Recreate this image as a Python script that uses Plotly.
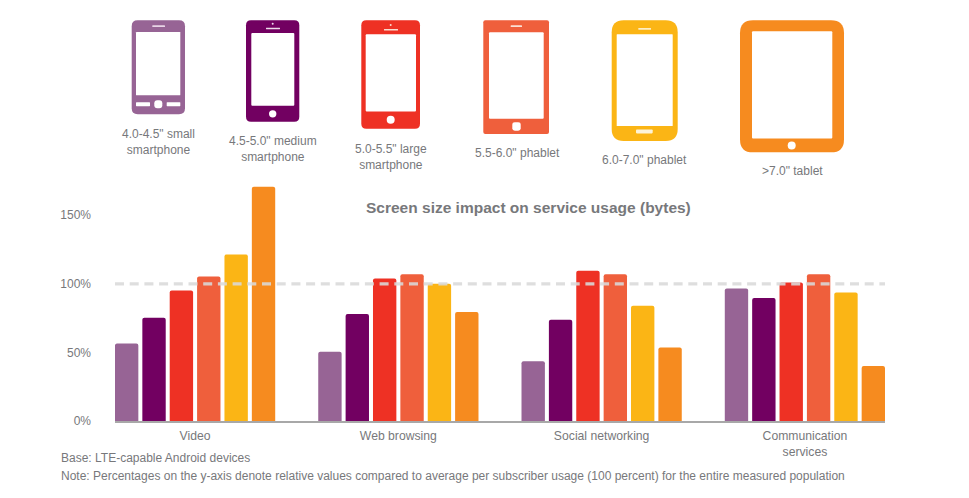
import plotly.graph_objects as go

categories = ["Video", "Web browsing", "Social networking", "Communication<br>services"]
series_names = ['4.0-4.5" small smartphone', '4.5-5.0" medium smartphone', '5.0-5.5" large smartphone',
                '5.5-6.0" phablet', '6.0-7.0" phablet', '>7.0" tablet']
small_phone = [56.4, 50.5, 43.5, 96.6]
medium_phone = [75.3, 78, 73.8, 89.6]
large_phone = [95.1, 103.9, 109.5, 101]
phablet_55 = [105.3, 107, 107, 107]
phablet_60 = [121.3, 100, 84, 93.7]
tablet = [170.8, 79.4, 53.5, 40]
series_values = [small_phone, medium_phone, large_phone, phablet_55, phablet_60, tablet]
colors = ["#976495", "#720061", "#ee3124", "#ef5f3c", "#fbb515", "#f68b1f"]
y_ticks = [0, 50, 100, 150]
y_tick_labels = ["0%", "50%", "100%", "150%"]
reference_level = 100

W, H = 969, 498
L, R, T, B = 115, 885, 185, 421.5
TXT = "#77787b"
FONT = "Liberation Sans, Arial, sans-serif"


def px(x):
    return (x - L) / (R - L)


def py(y):
    return (B - y) / (B - T)


def rrect(x0, y0, x1, y1, r, color):
    xa, xb, ya, yb = px(x0), px(x1), py(y0), py(y1)
    rx, ry = r / (R - L), r / (B - T)
    path = (f"M{xa + rx},{ya} L{xb - rx},{ya} Q{xb},{ya} {xb},{ya - ry} L{xb},{yb + ry} Q{xb},{yb} {xb - rx},{yb} "
            f"L{xa + rx},{yb} Q{xa},{yb} {xa},{yb + ry} L{xa},{ya - ry} Q{xa},{ya} {xa + rx},{ya} Z")
    return dict(type="path", xref="paper", yref="paper", path=path, fillcolor=color, line_width=0, layer="above")


def circle(cx, cy, r, color):
    return dict(type="circle", xref="paper", yref="paper", x0=px(cx - r), x1=px(cx + r),
                y0=py(cy + r), y1=py(cy - r), fillcolor=color, line_width=0, layer="above")


WHITE = "#ffffff"
shapes = []
c = colors
# small smartphone
shapes += [rrect(131.7, 20, 185, 114, 6, c[0]), rrect(136, 31.7, 180.3, 95, 0.5, WHITE),
           rrect(152.3, 25, 165, 26.7, 0.3, "#e8d4e6"), rrect(136, 102, 150, 106, 0.5, WHITE),
           rrect(154.3, 100, 162.3, 108, 3, WHITE), rrect(166.7, 102, 180.3, 106, 0.5, WHITE)]
# medium smartphone
shapes += [rrect(246, 20, 299.3, 121.7, 5, c[1]), rrect(251.3, 32.7, 294.3, 105.7, 1, WHITE),
           rrect(266, 27.3, 280, 28.8, 0.3, "#eedcec"), circle(272.7, 23.3, 1, "#eedcec"),
           circle(272.7, 113.7, 3.7, WHITE)]
# large smartphone
shapes += [rrect(361.3, 20, 420, 128.7, 5, c[2]), rrect(365.7, 34, 416, 111.3, 1, WHITE),
           rrect(384, 28.7, 398, 30.2, 0.3, "#fbdcd0"), circle(390.7, 24.7, 1, "#fbdcd0"),
           circle(390.7, 119.7, 4, WHITE)]
# 5.5-6.0 phablet
shapes += [rrect(483.3, 20, 549, 134, 2, c[3]), rrect(489, 32, 543.7, 118.7, 1, WHITE),
           rrect(510.7, 25, 522, 26.7, 0.3, "#fbe0d5"), rrect(512.3, 122, 520.7, 130.7, 2.5, WHITE)]
# 6.0-7.0 phablet
shapes += [rrect(611.7, 20, 677.7, 141, 12, c[4]), rrect(616.7, 34, 672.7, 126, 0.5, WHITE),
           rrect(638.3, 27.7, 651, 29.3, 0.3, "#fdeec5"), rrect(636, 129.3, 652.7, 133.3, 0.8, "#fdf3d8")]
# tablet
shapes += [rrect(740, 20, 844, 152.3, 13, c[5]), rrect(752, 31, 832.3, 138.3, 1, WHITE),
           circle(791.7, 145.3, 4, WHITE)]
# 100 percent reference line
shapes.append(dict(type="line", xref="paper", yref="y", x0=0, x1=1, y0=reference_level, y1=reference_level,
                   line=dict(color="rgba(218,218,218,0.88)", width=3.2, dash="9px,5.7px"), layer="above"))


def label(x, y, text, size=12, anchor="center"):
    return dict(xref="paper", yref="paper", x=px(x), y=py(y), text=text, showarrow=False, xanchor=anchor,
                yanchor="middle", align="center", font=dict(size=size, color=TXT, family=FONT))


annotations = [
    label(158.5, 141.5, '4.0-4.5" small<br>smartphone'),
    label(273, 148.5, '4.5-5.0" medium<br>smartphone'),
    label(390.5, 156.5, '5.0-5.5" large<br>smartphone'),
    label(517, 153, '5.5-6.0" phablet'),
    label(644.5, 160, '6.0-7.0" phablet'),
    label(792, 171, '>7.0" tablet'),
    label(528, 208, "<b>Screen size impact on service usage (bytes)</b>", 15.5),
    label(59, 459, "Base: LTE-capable Android devices", 12, "left"),
    label(59, 477, "Note: Percentages on the y-axis denote relative values compared to average per subscriber "
                   "usage (100 percent) for the entire measured population", 12, "left"),
]

fig = go.Figure()
for name, vals, col in zip(series_names, series_values, colors):
    fig.add_bar(x=categories, y=vals, name=name, marker=dict(color=col, line_width=0))

fig.update_layout(
    width=W, height=H, margin=dict(l=L, r=W - R, t=T, b=H - B, pad=0, autoexpand=False),
    paper_bgcolor="white", plot_bgcolor="white", showlegend=False,
    barmode="group", bargap=0.192, bargroupgap=0.146, barcornerradius=2,
    font=dict(family=FONT, color=TXT, size=12),
    shapes=shapes, annotations=annotations,
    xaxis=dict(range=[-0.394, 3.394], showline=True, linecolor="#a8a8a8", linewidth=1.5, ticks="",
               showgrid=False, zeroline=False, tickfont=dict(size=12.2, color=TXT), ticklabelstandoff=3),
    yaxis=dict(range=[0, 172], tickmode="array", tickvals=y_ticks, ticktext=y_tick_labels, showgrid=False,
               zeroline=False, showline=False, ticks="", ticklabelstandoff=23, tickfont=dict(size=12, color=TXT)),
)
fig.write_html("out.html", post_script="document.body.style.margin='0';", config=dict(displayModeBar=False))
